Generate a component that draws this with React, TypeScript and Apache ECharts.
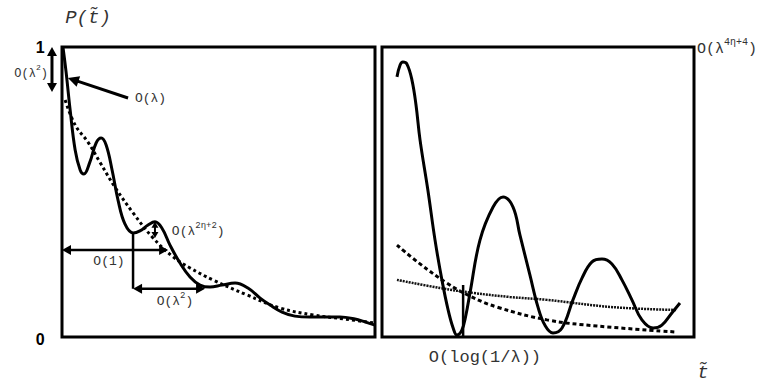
import React, { useEffect, useRef } from 'react';
import * as echarts from 'echarts';

// Left panel (t in arbitrary units 0..10, P normalised 0..1)
const leftSolid: [number, number][] = [
  [0.03, 1.0], [0.13, 0.914], [0.26, 0.783], [0.42, 0.645], [0.58, 0.576], [0.7, 0.562],
  [0.89, 0.603], [1.09, 0.669], [1.25, 0.686], [1.41, 0.662], [1.6, 0.576], [1.79, 0.472],
  [2.01, 0.39], [2.27, 0.359], [2.49, 0.366], [2.75, 0.386], [2.97, 0.397], [3.19, 0.376],
  [3.45, 0.317], [3.77, 0.255], [4.09, 0.207], [4.41, 0.179], [4.73, 0.172], [5.11, 0.179],
  [5.53, 0.186], [5.94, 0.169], [6.33, 0.134], [6.65, 0.11], [7.03, 0.086], [7.44, 0.072],
  [7.92, 0.069], [8.4, 0.069], [8.88, 0.069], [9.36, 0.062], [9.68, 0.052], [10.0, 0.041],
];
const leftDotted: [number, number][] = [
  [0.1, 0.817], [0.42, 0.731], [0.83, 0.672], [1.21, 0.603], [1.69, 0.517], [2.27, 0.428],
  [2.88, 0.345], [3.55, 0.276], [4.09, 0.238], [4.82, 0.197], [5.91, 0.145], [6.96, 0.1],
  [8.02, 0.076], [9.04, 0.062], [10.0, 0.048],
];
const leftMarker: [number, number][] = [[2.27, 0.359], [2.27, 0.166]];

// Right panel
const rightSolid: [number, number][] = [
  [0.48, 0.897], [0.58, 0.938], [0.67, 0.948], [0.8, 0.941], [0.96, 0.886], [1.09, 0.8],
  [1.22, 0.679], [1.47, 0.507], [1.7, 0.334], [1.92, 0.197], [2.12, 0.093], [2.28, 0.031],
  [2.4, 0.007], [2.56, 0.024], [2.69, 0.076], [2.82, 0.152], [3.14, 0.334], [3.56, 0.448],
  [3.88, 0.483], [4.2, 0.448], [4.42, 0.352], [4.74, 0.214], [5.0, 0.103], [5.22, 0.041],
  [5.48, 0.014], [5.77, 0.031], [6.12, 0.128], [6.41, 0.203], [6.73, 0.259], [7.05, 0.269],
  [7.37, 0.252], [7.69, 0.197], [8.01, 0.128], [8.33, 0.059], [8.69, 0.031], [8.97, 0.041],
  [9.29, 0.083], [9.55, 0.117],
];
const rightDashed: [number, number][] = [
  [0.48, 0.317], [1.22, 0.252], [2.08, 0.186], [2.82, 0.141], [3.69, 0.103], [5.29, 0.059],
  [6.89, 0.038], [9.46, 0.017],
];
const rightFine: [number, number][] = [
  [0.48, 0.197], [1.86, 0.169], [2.92, 0.152], [4.1, 0.138], [5.29, 0.128], [7.4, 0.103],
  [9.46, 0.093],
];
const rightMarker: [number, number][] = [[2.6, 0], [2.6, 0.179]];

const MONO = '"Liberation Mono", "DejaVu Sans Mono", monospace';
const TXT = '#333';

export default function App() {
  const ref = useRef<HTMLDivElement>(null);
  useEffect(() => {
    document.body.style.margin = '0';
    document.body.style.overflow = 'hidden';
    const chart = echarts.init(ref.current!, null, { renderer: 'svg' });
    const line = (data: [number, number][], idx: number, lineStyle: any, smooth: any = 0.4) => ({
      type: 'line', xAxisIndex: idx, yAxisIndex: idx, data, smooth, symbol: 'none',
      silent: true, lineStyle: { color: '#000', cap: 'butt', ...lineStyle },
    });
    chart.setOption({
      animation: false,
      grid: [
        { left: 62, top: 47, width: 313, height: 290, show: true, borderColor: '#000', borderWidth: 3 },
        { left: 382, top: 47, width: 312, height: 290, show: true, borderColor: '#000', borderWidth: 3 },
      ],
      xAxis: [
        { gridIndex: 0, type: 'value', min: 0, max: 10, show: false },
        { gridIndex: 1, type: 'value', min: 0, max: 10, show: false },
      ],
      yAxis: [
        { gridIndex: 0, type: 'value', min: 0, max: 1, show: false },
        { gridIndex: 1, type: 'value', min: 0, max: 1, show: false },
      ],
      series: [
        line(leftDotted, 0, { width: 3, type: [3, 3] }),
        line(leftSolid, 0, { width: 3 }),
        line(leftMarker, 0, { width: 2.5 }, false),
        line(rightDashed, 1, { width: 3, type: [4, 3] }),
        line(rightFine, 1, { width: 2.5, type: [2, 1], color: '#111' }),
        line(rightSolid, 1, { width: 3 }),
        line(rightMarker, 1, { width: 2.5 }, false),
      ],
    });

    const L = (p: number[]) => chart.convertToPixel({ gridIndex: 0 }, p) as number[];
    const R = (p: number[]) => chart.convertToPixel({ gridIndex: 1 }, p) as number[];
    const els: any[] = [];
    const head = (tip: number[], from: number[], len: number, hw: number) => {
      const dx = tip[0] - from[0], dy = tip[1] - from[1];
      const d = Math.hypot(dx, dy) || 1;
      const ux = dx / d, uy = dy / d;
      const bx = tip[0] - ux * len, by = tip[1] - uy * len;
      els.push({
        type: 'polygon', silent: true,
        shape: { points: [tip, [bx - uy * hw, by + ux * hw], [bx + uy * hw, by - ux * hw]] },
        style: { fill: '#000' },
      });
      return [bx + ux * 1, by + uy * 1];
    };
    const arrow = (a: number[], b: number[], both: boolean, w: number, len = 9, hw = 5) => {
      const b2 = head(b, a, len, hw);
      const a2 = both ? head(a, b, len, hw) : a;
      els.push({
        type: 'line', silent: true,
        shape: { x1: a2[0], y1: a2[1], x2: b2[0], y2: b2[1] },
        style: { stroke: '#000', lineWidth: w },
      });
    };
    const text = (p: number[], t: string, size: number, align: string, extra: any = {}) => {
      els.push({
        type: 'text', silent: true, x: p[0], y: p[1],
        style: {
          text: t, fill: TXT, font: `${size}px ${MONO}`, align, verticalAlign: 'middle', ...extra,
        },
      });
    };
    const supText = (p: number[], parts: string[], size: number, sup: number, align: string) => {
      const rich = {
        m: { fontSize: size, fontFamily: MONO, fill: TXT, color: TXT, lineHeight: size + 4, verticalAlign: 'bottom' },
        s: { fontSize: sup, fontFamily: MONO, fill: TXT, color: TXT, verticalAlign: 'top' },
      };
      const t = `{m|${parts[0]}}{s|${parts[1]}}{m|${parts[2]}}`;
      els.push({
        type: 'text', silent: true, x: p[0], y: p[1],
        style: { text: t, rich, align, verticalAlign: 'middle', fill: TXT },
      });
    };

    // Left panel annotations
    arrow(L([-0.32, 1.0]), L([-0.32, 0.845]), true, 3);
    arrow(L([2.11, 0.824]), L([0.19, 0.893]), false, 3, 11, 5.5);
    arrow(L([0, 0.3]), L([3.39, 0.3]), true, 2.5);
    arrow(L([2.27, 0.166]), L([4.57, 0.166]), true, 2.5);
    arrow(L([2.97, 0.397]), L([2.97, 0.341]), true, 2, 6, 3.5);

    els.push({
      type: 'text', silent: true, x: L([-0.7, 1.0])[0], y: L([-0.7, 1.0])[1],
      style: { text: '1', font: 'bold 16px "Liberation Sans", Arial, sans-serif', fill: '#000', align: 'center', verticalAlign: 'middle' },
    });
    els.push({
      type: 'text', silent: true, x: L([-0.7, -0.01])[0], y: L([-0.7, -0.01])[1],
      style: { text: '0', font: 'bold 16px "Liberation Sans", Arial, sans-serif', fill: '#000', align: 'center', verticalAlign: 'middle' },
    });
    text(L([0.83, 1.1]), 'P(t\u0303)', 19, 'center', { font: `italic 19px ${MONO}` });
    supText(L([-0.45, 0.914]), ['O(\u03bb', '2', ')'], 12, 8, 'right');
    text(L([2.33, 0.821]), 'O(\u03bb)', 13, 'left');
    text(L([1.5, 0.259]), 'O(1)', 13, 'center');
    supText(L([3.61, 0.128]), ['O(\u03bb', '2', ')'], 13, 9, 'center');
    supText(L([3.51, 0.369]), ['O(\u03bb', '2\u03b7+2', ')'], 13, 9, 'left');

    // Right panel annotations
    supText(R([10.1, 1.0]), ['O(\u03bb', '4\u03b7+4', ')'], 15, 10, 'left');
    text(R([3.3, -0.069]), 'O(log(1/\u03bb))', 17, 'center');
    text(R([10.29, -0.124]), 't\u0303', 19, 'center', { font: `italic 19px ${MONO}` });

    chart.setOption({ graphic: els });
    return () => chart.dispose();
  }, []);
  return <div ref={ref} style={{ width: 769, height: 384 }} />;
}
